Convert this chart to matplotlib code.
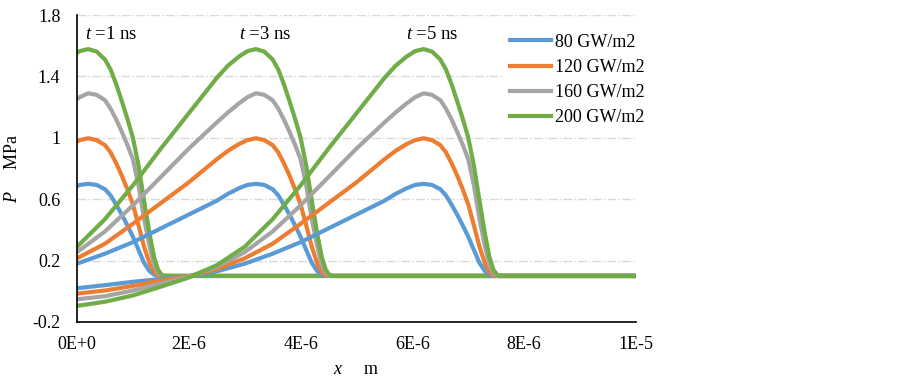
import matplotlib.pyplot as plt

plt.rcParams['font.family'] = 'Liberation Serif'
plt.rcParams['mathtext.fontset'] = 'custom'
plt.rcParams['mathtext.rm'] = 'Liberation Serif'
plt.rcParams['mathtext.it'] = 'Liberation Serif:italic'

profile_x_um = [0, 0.5, 1.0, 1.5, 2.0, 2.5, 3.0, 3.5, 4.0, 4.5, 5.0, 5.5,
                5.7, 5.9, 6.05, 6.2, 6.35, 6.5, 6.6, 6.7, 6.8, 6.9, 7.0, 7.1,
                7.2, 7.3, 7.38, 7.45, 7.52, 7.6, 16.0]
p_80 = [0.02, 0.04, 0.062, 0.08, 0.097, 0.13, 0.18, 0.245, 0.32, 0.41, 0.50,
        0.59, 0.635, 0.672, 0.693, 0.70, 0.693, 0.665, 0.625, 0.565, 0.50,
        0.43, 0.355, 0.27, 0.185, 0.13, 0.108, 0.1, 0.1, 0.1, 0.1]
p_120 = [-0.015, 0.005, 0.035, 0.07, 0.098, 0.145, 0.215, 0.31, 0.44, 0.575,
         0.71, 0.86, 0.915, 0.96, 0.985, 0.997, 0.985, 0.952, 0.905, 0.835,
         0.755, 0.665, 0.565, 0.43, 0.29, 0.18, 0.125, 0.105, 0.1, 0.1, 0.1]
p_160 = [-0.052, -0.032, 0.005, 0.05, 0.095, 0.16, 0.255, 0.39, 0.56, 0.745,
         0.93, 1.10, 1.165, 1.225, 1.265, 1.29, 1.28, 1.245, 1.19, 1.12, 1.04,
         0.955, 0.86, 0.69, 0.47, 0.29, 0.17, 0.12, 0.1, 0.1, 0.1]
p_200 = [-0.095, -0.068, -0.027, 0.03, 0.09, 0.17, 0.29, 0.47, 0.69, 0.93,
         1.16, 1.39, 1.47, 1.53, 1.565, 1.578, 1.562, 1.51, 1.445, 1.35, 1.24,
         1.125, 1.0, 0.82, 0.59, 0.37, 0.22, 0.14, 0.105, 0.1, 0.1]

labels = ['80 GW/m2', '120 GW/m2', '160 GW/m2', '200 GW/m2']
colors = ['#5B9BD5', '#ED7D31', '#A5A5A5', '#70AD47']
series = [p_80, p_120, p_160, p_200]

times_ns = [1, 3, 5]
shift_um = [6.0, 3.0, 0.0]   # how far the wave is behind the t=5 ns one
label_x_um = [0.61, 3.36, 6.35]

yticks = [-0.2, 0.2, 0.6, 1.0, 1.4, 1.8]
ytick_labels = ['-0.2', '0.2', '0.6', '1', '1.4', '1.8']
xticks = [0, 2e-6, 4e-6, 6e-6, 8e-6, 1e-5]
xtick_labels = ['0E+0', '2E-6', '4E-6', '6E-6', '8E-6', '1E-5']

fig = plt.figure(figsize=(9.03, 3.79), dpi=100)
ax = fig.add_axes([0.0853, 0.1504, 0.619, 0.81])

for k, s in enumerate(shift_um):
    x = [(v - s) * 1e-6 for v in profile_x_um]
    for i in range(4):
        ax.plot(x, series[i], color=colors[i], lw=3,
                label=labels[i] if k == 0 else None, solid_joinstyle='round')

for t, lx in zip(times_ns, label_x_um):
    ax.text(lx * 1e-6, 1.67, f'$t$ ={t} ns', ha='center', va='center', fontsize=13.5)

ax.set_xlim(0, 1e-5)
ax.set_ylim(-0.2, 1.8)
ax.set_xticks(xticks)
ax.set_xticklabels(xtick_labels)
ax.set_yticks(yticks)
ax.set_yticklabels(ytick_labels)
ax.tick_params(length=0, labelsize=13)
ax.tick_params(axis='x', pad=10)
ax.tick_params(axis='y', pad=12)
ax.grid(axis='y', color='#D9D9D9', ls='-.', lw=1)
ax.set_axisbelow(True)
for side in ['top', 'right']:
    ax.spines[side].set_visible(False)
ax.spines['left'].set_linewidth(1.2)
ax.spines['bottom'].set_linewidth(1.2)

ax.set_xlabel('$x$     m', fontsize=13, labelpad=6)
ax.set_ylabel('$P$     MPa', fontsize=13, labelpad=8)

leg = ax.legend(loc='upper left', bbox_to_anchor=(0.748, 0.986), fontsize=13,
                handlelength=2.3, handletextpad=0.2, labelspacing=0.45,
                frameon=True, edgecolor='none', facecolor='white', framealpha=1,
                borderpad=0.3)

fig.savefig('out.png', dpi=100)
